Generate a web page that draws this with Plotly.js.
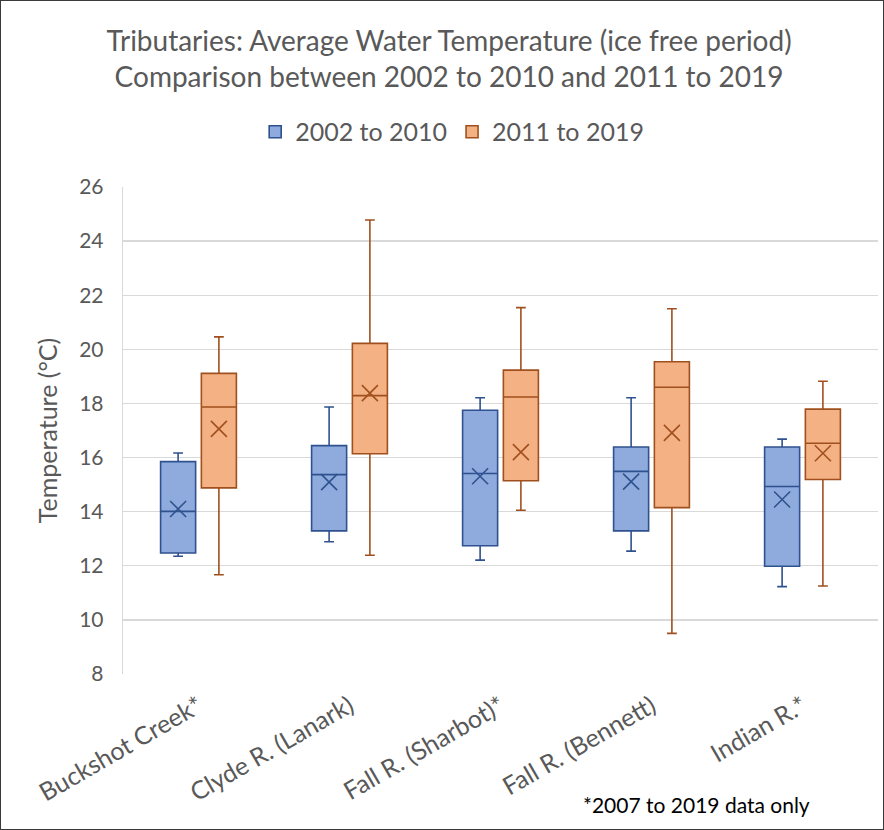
<!DOCTYPE html>
<html>
<head>
<meta charset="utf-8">
<script src="https://cdn.plot.ly/plotly-3.0.1.min.js"></script>
<style>
html,body{margin:0;padding:0;background:#fff;}
#wrap{position:relative;width:884px;height:830px;}
#chart{position:absolute;left:0;top:0;width:884px;height:830px;}
#frame{position:absolute;left:0;top:0;width:882px;height:828px;border:1px solid #3a3a3a;pointer-events:none;}
</style>
</head>
<body>
<div id="wrap"><div id="chart"></div><div id="frame"></div></div>
<script>
const categories = ["Buckshot Creek*", "Clyde R. (Lanark)", "Fall R. (Sharbot)*", "Fall R. (Bennett)", "Indian R.*"];
const seriesNames = ["2002 to 2010", "2011 to 2019"];

// 2002 to 2010
const lowA    = [12.35, 12.89, 12.21, 12.54, 11.23];
const q1A     = [12.47, 13.29, 12.74, 13.29, 11.98];
const medA    = [14.01, 15.37, 15.41, 15.49, 14.93];
const q3A     = [15.85, 16.44, 17.75, 16.39, 16.39];
const highA   = [16.17, 17.87, 18.21, 18.21, 16.68];
const meanA   = [14.10, 15.09, 15.31, 15.11, 14.45];

// 2011 to 2019
const lowB    = [11.67, 12.39, 14.05, 9.50, 11.25];
const q1B     = [14.88, 16.14, 15.14, 14.15, 15.19];
const medB    = [17.87, 18.29, 18.24, 18.60, 16.53];
const q3B     = [19.11, 20.22, 19.23, 19.54, 17.79];
const highB   = [20.46, 24.78, 21.54, 21.50, 18.82];
const meanB   = [17.06, 18.38, 16.20, 16.91, 16.16];

const yTicks = [8, 10, 12, 14, 16, 18, 20, 22, 24, 26];
const footnote = "*2007 to 2019 data only";

const idx = categories.map((c, i) => i);
const OFF = 0.135, BW = 0.232;
const styles = [
  {fill: "#8FAADC", line: "#2F528F"},
  {fill: "#F4B183", line: "#A0501E"}
];
const sets = [
  {low: lowA, q1: q1A, med: medA, q3: q3A, high: highA, mean: meanA, pos: idx.map(i => i - OFF)},
  {low: lowB, q1: q1B, med: medB, q3: q3B, high: highB, mean: meanB, pos: idx.map(i => i + OFF)}
];

const traces = [];
sets.forEach((s, k) => {
  traces.push({
    type: "box", name: seriesNames[k], x: s.pos,
    q1: s.q1, median: s.med, q3: s.q3, lowerfence: s.low, upperfence: s.high,
    width: BW, whiskerwidth: 0.28, boxpoints: false,
    fillcolor: styles[k].fill, line: {color: styles[k].line, width: 1.6},
    hoverinfo: "skip"
  });
});
sets.forEach((s, k) => {
  traces.push({
    type: "scatter", mode: "markers", x: s.pos, y: s.mean, showlegend: false,
    marker: {symbol: "x-thin-open", size: 16, line: {color: styles[k].line, width: 1.6}, color: styles[k].line},
    hoverinfo: "skip"
  });
});

const fontFam = "Lato, 'Open Sans', sans-serif";
const txt = "#595959";
const layout = {
  width: 884, height: 830,
  margin: {l: 123, r: 6, t: 187, b: 156},
  paper_bgcolor: "#fff", plot_bgcolor: "#fff",
  font: {family: fontFam, color: txt},
  title: {
    text: "Tributaries: Average Water Temperature (ice free period)<br>Comparison between 2002 to 2010 and 2011 to 2019",
    font: {size: 28, color: txt, family: fontFam},
    x: 0.508, xanchor: "center", yref: "container", y: 0.939, yanchor: "middle"
  },
  showlegend: true,
  legend: {
    orientation: "h", x: 0.436, xanchor: "center", y: 1.113, yanchor: "middle",
    font: {size: 25, color: txt}, itemwidth: 30, traceorder: "normal"
  },
  xaxis: {
    range: [-0.5, 4.5], tickvals: idx, ticktext: categories, tickangle: -30,
    showgrid: false, zeroline: false, showline: false, ticks: "",
    ticklabelstandoff: 12,
    tickfont: {size: 25, color: txt, family: fontFam}, fixedrange: true
  },
  yaxis: {
    range: [8, 26], tickvals: yTicks, ticktext: yTicks.map(String),
    showgrid: true, gridcolor: "#D9D9D9", gridwidth: 1.3, zeroline: false,
    showline: true, linecolor: "#D9D9D9", linewidth: 1.3,
    ticks: "", ticklabelstandoff: 14,
    tickfont: {size: 21, color: txt, family: fontFam},
    title: {text: "Temperature (°C)", font: {size: 25, color: txt, family: fontFam}, standoff: 14}
  },
  annotations: [{
    text: footnote, xref: "paper", yref: "paper", x: 0.760, y: -0.267,
    xanchor: "center", yanchor: "middle", showarrow: false,
    font: {size: 21, color: "#000", family: fontFam}
  }]
};

Plotly.newPlot("chart", traces, layout, {displayModeBar: false, staticPlot: true});
</script>
</body>
</html>
